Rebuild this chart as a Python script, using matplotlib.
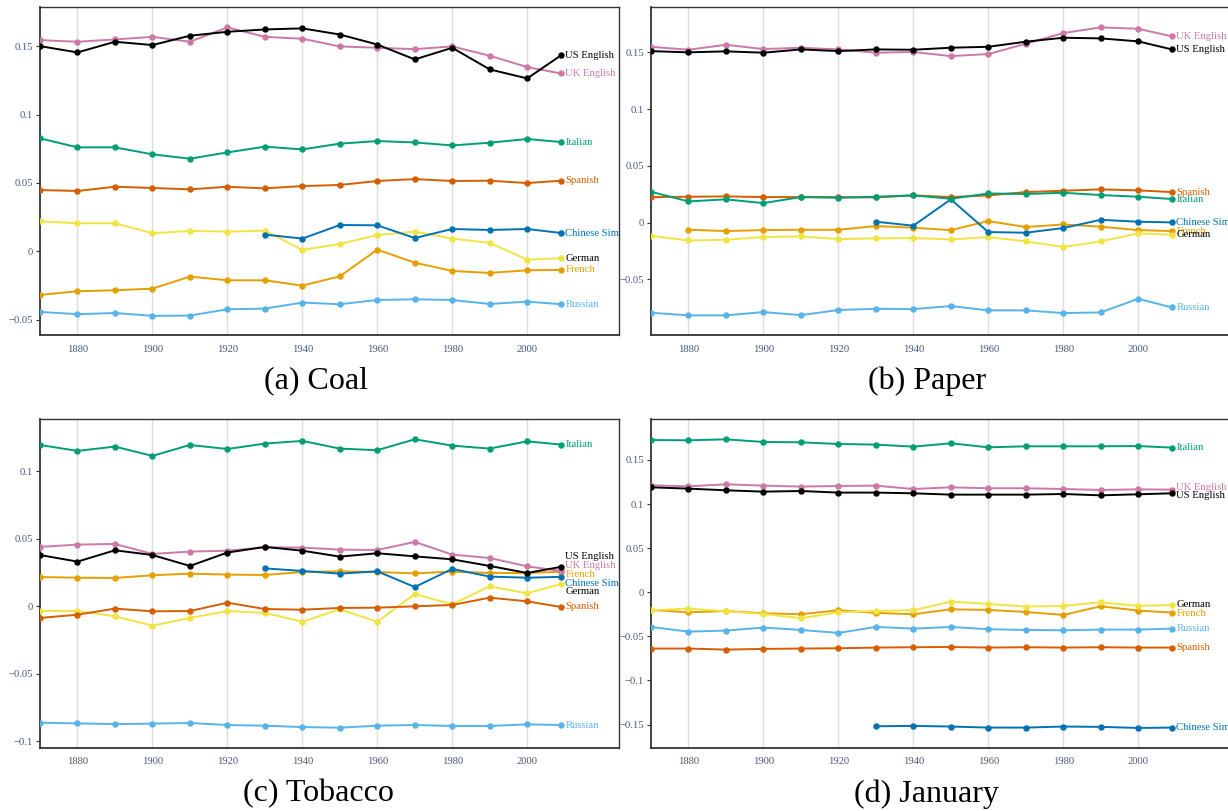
import numpy as np
import matplotlib
matplotlib.use("Agg")
import matplotlib.pyplot as plt
from matplotlib.ticker import MultipleLocator, FuncFormatter

plt.rcParams['font.family'] = ['Liberation Serif', 'DejaVu Serif']

nan = np.nan
years = [1870, 1880, 1890, 1900, 1910, 1920, 1930, 1940, 1950, 1960, 1970, 1980, 1990, 2000, 2009]
languages = ['Russian', 'French', 'German', 'Chinese Simplified', 'Spanish', 'Italian', 'UK English', 'US English']

# (a) Coal
coal_us = [0.150, 0.1454, 0.1532, 0.1508, 0.1576, 0.1605, 0.1622, 0.1630, 0.1585, 0.1512, 0.1403, 0.1488, 0.1330, 0.1264, 0.1432]
coal_uk = [0.1544, 0.1532, 0.1549, 0.1568, 0.1532, 0.1637, 0.1568, 0.1554, 0.1498, 0.1488, 0.1478, 0.1498, 0.1430, 0.1347, 0.1300]
coal_it = [0.0826, 0.0760, 0.0760, 0.0709, 0.0677, 0.0723, 0.0765, 0.0745, 0.0787, 0.0806, 0.0796, 0.0774, 0.0794, 0.0821, 0.0799]
coal_es = [0.0448, 0.0441, 0.0472, 0.0463, 0.0453, 0.0472, 0.0460, 0.0477, 0.0485, 0.0514, 0.0528, 0.0514, 0.0516, 0.0499, 0.0516]
coal_zh = [nan] * 6 + [0.0122, 0.0093, 0.0192, 0.0190, 0.0097, 0.0163, 0.0156, 0.0163, 0.0134]
coal_de = [0.0219, 0.0205, 0.0205, 0.0132, 0.0149, 0.0144, 0.0151, 0.0010, 0.0054, 0.0119, 0.0144, 0.0093, 0.0061, -0.0061, -0.0051]
coal_fr = [-0.0319, -0.0292, -0.0285, -0.0273, -0.0185, -0.0212, -0.0212, -0.0251, -0.0183, 0.0012, -0.0083, -0.0144, -0.0158, -0.0139, -0.0136]
coal_ru = [-0.0443, -0.0460, -0.0451, -0.0472, -0.0470, -0.0424, -0.0419, -0.0375, -0.0387, -0.0356, -0.0351, -0.0356, -0.0385, -0.0368, -0.0387]

# (b) Paper
paper_us = [0.1512, 0.1501, 0.1510, 0.1498, 0.1527, 0.1512, 0.1527, 0.1524, 0.1542, 0.1550, 0.1595, 0.1630, 0.1624, 0.1598, 0.1527]
paper_uk = [0.1550, 0.1524, 0.1568, 0.1530, 0.1542, 0.1527, 0.1498, 0.1504, 0.1468, 0.1486, 0.1577, 0.1671, 0.1721, 0.1709, 0.1642]
paper_it = [0.0273, 0.0188, 0.0206, 0.0173, 0.0226, 0.0220, 0.0229, 0.0241, 0.0211, 0.0258, 0.0253, 0.0264, 0.0244, 0.0229, 0.0209]
paper_es = [0.0226, 0.0229, 0.0232, 0.0226, 0.0226, 0.0226, 0.0223, 0.0241, 0.0226, 0.0241, 0.0270, 0.0282, 0.0294, 0.0285, 0.0270]
paper_zh = [nan] * 6 + [0.0009, -0.0026, 0.0206, -0.0082, -0.0088, -0.0047, 0.0026, 0.0009, 0.0003]
paper_de = [-0.0115, -0.0156, -0.0150, -0.0126, -0.0120, -0.0144, -0.0138, -0.0135, -0.0147, -0.0126, -0.0164, -0.0214, -0.0164, -0.0094, -0.0106]
paper_fr = [nan, -0.0062, -0.0073, -0.0065, -0.0062, -0.0062, -0.0029, -0.0044, -0.0065, 0.0015, -0.0038, -0.0015, -0.0035, -0.0065, -0.0073]
paper_ru = [-0.0793, -0.0816, -0.0816, -0.0787, -0.0814, -0.0769, -0.0758, -0.0761, -0.0734, -0.0772, -0.0772, -0.0796, -0.0790, -0.0670, -0.0746]

# (c) Tobacco
tobacco_us = [0.0380, 0.0331, 0.0415, 0.0380, 0.0299, 0.0398, 0.0440, 0.0412, 0.0368, 0.0393, 0.0370, 0.0348, 0.0299, 0.0247, 0.0292]
tobacco_uk = [0.0440, 0.0457, 0.0462, 0.0388, 0.0405, 0.0412, 0.0437, 0.0435, 0.0420, 0.0417, 0.0477, 0.0383, 0.0358, 0.0296, 0.0262]
tobacco_it = [0.1195, 0.1151, 0.1183, 0.1114, 0.1195, 0.1165, 0.1205, 0.1225, 0.1168, 0.1156, 0.1237, 0.1190, 0.1168, 0.1222, 0.1198]
tobacco_es = [-0.0086, -0.0062, -0.0017, -0.0037, -0.0035, 0.0027, -0.0020, -0.0025, -0.0012, -0.0010, 0.0000, 0.0010, 0.0064, 0.0037, -0.0005]
tobacco_zh = [nan] * 6 + [0.0281, 0.0262, 0.0242, 0.0259, 0.0143, 0.0277, 0.0220, 0.0212, 0.0218]
tobacco_de = [-0.0035, -0.0035, -0.0074, -0.0143, -0.0086, -0.0035, -0.0049, -0.0114, -0.0022, -0.0114, 0.0091, 0.0015, 0.0148, 0.0096, 0.0165]
tobacco_fr = [0.0217, 0.0212, 0.0210, 0.0230, 0.0242, 0.0235, 0.0232, 0.0254, 0.0259, 0.0254, 0.0244, 0.0257, 0.0247, 0.0247, 0.0256]
tobacco_ru = [-0.0862, -0.0867, -0.0872, -0.0869, -0.0864, -0.0879, -0.0884, -0.0894, -0.0899, -0.0884, -0.0879, -0.0886, -0.0886, -0.0874, -0.0879]

# (d) January
january_us = [0.1190, 0.1175, 0.1156, 0.1141, 0.1148, 0.1130, 0.1130, 0.1122, 0.1107, 0.1107, 0.1107, 0.1114, 0.1099, 0.1111, 0.1122]
january_uk = [0.1213, 0.1201, 0.1224, 0.1209, 0.1198, 0.1205, 0.1209, 0.1171, 0.1190, 0.1179, 0.1179, 0.1171, 0.1160, 0.1167, 0.1164]
january_it = [0.1726, 0.1723, 0.1734, 0.1704, 0.1700, 0.1681, 0.1674, 0.1651, 0.1689, 0.1643, 0.1655, 0.1655, 0.1655, 0.1658, 0.1640]
january_es = [-0.0638, -0.0638, -0.0650, -0.0642, -0.0638, -0.0635, -0.0627, -0.0623, -0.0620, -0.0627, -0.0623, -0.0627, -0.0623, -0.0627, -0.0627]
january_zh = [nan] * 6 + [-0.1519, -0.1515, -0.1522, -0.1534, -0.1534, -0.1522, -0.1526, -0.1538, -0.1534]
january_de = [-0.0204, -0.0185, -0.0215, -0.0246, -0.0295, -0.0227, -0.0212, -0.0204, -0.0106, -0.0132, -0.0162, -0.0155, -0.0113, -0.0155, -0.0144]
january_fr = [-0.0200, -0.0227, -0.0212, -0.0238, -0.0249, -0.0204, -0.0234, -0.0249, -0.0193, -0.0200, -0.0223, -0.0257, -0.0159, -0.0208, -0.0230]
january_ru = [-0.0393, -0.0446, -0.0434, -0.0400, -0.0427, -0.0461, -0.0393, -0.0412, -0.0393, -0.0419, -0.0427, -0.0431, -0.0423, -0.0423, -0.0412]

titles = ['(a) Coal', '(b) Paper', '(c) Tobacco', '(d) January']

# Okabe-Ito colours
colors = {
    'US English': '#000000',
    'UK English': '#CC79A7',
    'Italian': '#009E73',
    'Spanish': '#D55E00',
    'Chinese Simplified': '#0072B2',
    'German': '#F0E442',
    'French': '#E69F00',
    'Russian': '#56B4E9',
}
label_colors = dict(colors, German='#000000')


def panel_series(us, uk, it, es, zh, de, fr, ru):
    return {'US English': us, 'UK English': uk, 'Italian': it, 'Spanish': es,
            'Chinese Simplified': zh, 'German': de, 'French': fr, 'Russian': ru}


panels = [
    panel_series(coal_us, coal_uk, coal_it, coal_es, coal_zh, coal_de, coal_fr, coal_ru),
    panel_series(paper_us, paper_uk, paper_it, paper_es, paper_zh, paper_de, paper_fr, paper_ru),
    panel_series(tobacco_us, tobacco_uk, tobacco_it, tobacco_es, tobacco_zh, tobacco_de, tobacco_fr, tobacco_ru),
    panel_series(january_us, january_uk, january_it, january_es, january_zh, january_de, january_fr, january_ru),
]

# layout (figure pixels) and axis ranges
W, H = 1228, 811
axes_px = [(40, 7.3, 619, 335), (651, 7.3, 1230, 335), (40, 419.3, 619, 747.7), (651, 419.3, 1230, 747.7)]
ylims = [(-0.0612, 0.1784), (-0.0989, 0.1898), (-0.1047, 0.1385), (-0.1762, 0.1961)]
caption_px = [(316, 381), (927, 381), (318, 794), (926, 794)]
repel = [True, False, True, True]

tick_color = '#4A5878'


def fmt(v, pos):
    s = f"{round(v, 4):g}"
    if s == '-0':
        s = '0'
    return s.replace('-', '\u2212')


def spread(values, gap):
    # push label positions apart so that they keep a minimum gap (pixels)
    order = np.argsort(values)
    y = np.array(values, dtype=float)[order]
    for _ in range(300):
        moved = False
        for i in range(1, len(y)):
            d = y[i] - y[i - 1]
            if d < gap - 1e-6:
                shift = (gap - d) / 2
                y[i] += shift
                y[i - 1] -= shift
                moved = True
        if not moved:
            break
    out = np.empty_like(y)
    out[order] = y
    return out


fig = plt.figure(figsize=(W / 100, H / 100), dpi=100)

for k, series in enumerate(panels):
    x0, y0, x1, y1 = axes_px[k]
    ax = fig.add_axes([x0 / W, 1 - y1 / H, (x1 - x0) / W, (y1 - y0) / H])
    ax.set_xlim(1870, 2024.5)
    ax.set_ylim(*ylims[k])

    for gx in range(1880, 2001, 20):
        ax.axvline(gx, color='#DCDCDC', lw=1.0, zorder=0)

    for lang in languages:
        ax.plot(years, series[lang], color=colors[lang], lw=1.4, marker='o', ms=3.6, zorder=3)

    # direct labels at the last point
    last_vals = [series[lang][-1] for lang in languages]
    pix = [ax.transData.transform((years[-1], v))[1] for v in last_vals]
    if repel[k]:
        pix = spread(pix, 8.8)
    inv = ax.transData.inverted()
    for lang, py in zip(languages, pix):
        yv = inv.transform((0, py))[1]
        t = ax.annotate(lang, xy=(years[-1], yv), xytext=(3.2, 0), textcoords='offset points',
                        va='center', ha='left', fontsize=7.7, color=label_colors[lang],
                        annotation_clip=False, zorder=4)
        t.set_clip_on(True)
        t.set_clip_path(ax.patch)

    ax.set_xticks(range(1880, 2001, 20))
    ax.yaxis.set_major_locator(MultipleLocator(0.05))
    ax.yaxis.set_major_formatter(FuncFormatter(fmt))
    ax.tick_params(axis='x', length=0, pad=7, labelsize=7.7, labelcolor=tick_color)
    ax.tick_params(axis='y', length=3, width=0.8, color='#333333', pad=2,
                   labelsize=7.7, labelcolor=tick_color)
    for side, sp in ax.spines.items():
        sp.set_color('#333333')
        sp.set_linewidth(1.3 if side in ('left', 'bottom') else 1.0)

    cx, cy = caption_px[k]
    fig.text(cx / W, 1 - cy / H, titles[k], ha='center', va='center', fontsize=23)

fig.savefig('out.png', dpi=100)
